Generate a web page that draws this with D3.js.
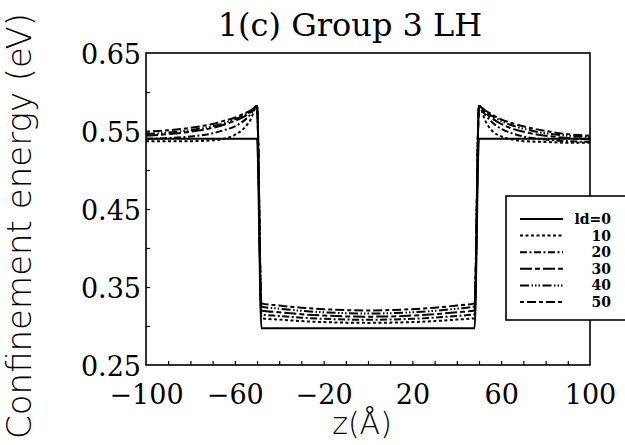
<!DOCTYPE html>
<html>
<head>
<meta charset="utf-8">
<script src="https://cdn.jsdelivr.net/npm/d3@7"></script>
<style>
  body { margin: 0; background: #fff; }
</style>
</head>
<body>
<div id="chart"></div>
<script>
// Data: z in Angstrom, energy in eV
const zGrid = [-100, -90, -80, -70, -65, -60, -56, -53, -50, -48, -40, -30, -20, -10, 0,
               10, 20, 30, 40, 48, 50, 53, 56, 60, 65, 70, 80, 90, 100];

const e0  = [0.540, 0.540, 0.540, 0.540, 0.540, 0.540, 0.540, 0.540, 0.540,
             0.297, 0.297, 0.297, 0.297, 0.297, 0.297, 0.297, 0.297, 0.297, 0.297, 0.297,
             0.540, 0.540, 0.540, 0.540, 0.540, 0.540, 0.540, 0.540, 0.540];
const e10 = [0.537, 0.537, 0.537, 0.538, 0.540, 0.545, 0.553, 0.564, 0.582,
             0.310, 0.3082, 0.3063, 0.305, 0.3043, 0.304, 0.3043, 0.305, 0.3063, 0.3082, 0.310,
             0.582, 0.562, 0.550, 0.543, 0.539, 0.537, 0.536, 0.535, 0.535];
const e20 = [0.540, 0.541, 0.543, 0.547, 0.551, 0.556, 0.563, 0.571, 0.582,
             0.315, 0.3129, 0.3107, 0.3092, 0.3083, 0.308, 0.3083, 0.3092, 0.3107, 0.3129, 0.315,
             0.582, 0.570, 0.561, 0.553, 0.547, 0.543, 0.539, 0.537, 0.536];
const e30 = [0.544, 0.546, 0.549, 0.554, 0.558, 0.563, 0.568, 0.574, 0.582,
             0.320, 0.3176, 0.3151, 0.3134, 0.3123, 0.312, 0.3123, 0.3134, 0.3151, 0.3176, 0.320,
             0.582, 0.573, 0.566, 0.559, 0.553, 0.549, 0.544, 0.541, 0.539];
const e40 = [0.546, 0.548, 0.551, 0.556, 0.560, 0.565, 0.570, 0.575, 0.582,
             0.325, 0.3222, 0.3195, 0.3176, 0.3164, 0.316, 0.3164, 0.3176, 0.3195, 0.3222, 0.325,
             0.582, 0.575, 0.569, 0.563, 0.557, 0.553, 0.547, 0.544, 0.542];
const e50 = [0.549, 0.551, 0.554, 0.559, 0.563, 0.567, 0.572, 0.576, 0.582,
             0.329, 0.3262, 0.3235, 0.3216, 0.3204, 0.320, 0.3204, 0.3216, 0.3235, 0.3262, 0.329,
             0.582, 0.576, 0.571, 0.565, 0.560, 0.556, 0.550, 0.546, 0.544];

const legendLabels = ["ld=0", "10", "20", "30", "40", "50"];
const xTickLabels = [-100, -60, -20, 20, 60, 100];
const yTickLabels = [0.25, 0.35, 0.45, 0.55, 0.65];

// Set dimensions
const width = 625, height = 445;
const plotL = 146, plotR = 590, plotT = 53, plotB = 365;

const svg = d3.select("#chart")
  .append("svg")
  .attr("width", width)
  .attr("height", height);

const xScale = d3.scaleLinear().domain([-100, 100]).range([plotL, plotR]);
const yScale = d3.scaleLinear().domain([0.25, 0.65]).range([plotB, plotT]);

// dash patterns, in legend order
const dashes = ["none", "3,2.5", "7,2.5,2,2.5", "12,3,5,3", "9,2.5,1.5,2,1.5,2,1.5,2.5", "4,3,9,3"];
const allSeries = [e0, e10, e20, e30, e40, e50];

// Title
svg.append("text")
  .attr("x", 350)
  .attr("y", 36)
  .attr("text-anchor", "middle")
  .style("font-family", "DejaVu Serif")
  .style("font-size", "32px")
  .text("1(c) Group 3 LH");

// X axis ticks (every 10, pointing in)
svg.append("g")
  .attr("transform", "translate(0," + plotB + ")")
  .call(d3.axisBottom(xScale).tickValues(d3.range(-90, 100, 10)).tickSize(-4).tickFormat(""))
  .call(g => g.select(".domain").remove())
  .selectAll("line").attr("stroke-width", 1.2);

svg.append("g")
  .attr("transform", "translate(0," + plotB + ")")
  .call(d3.axisBottom(xScale).tickValues(xTickLabels).tickSize(0).tickPadding(0).tickFormat(d3.format("d")))
  .call(g => g.select(".domain").remove())
  .selectAll("text")
    .attr("y", 39)
    .attr("dy", null)
    .style("font-family", "DejaVu Serif")
    .style("font-size", "27px")
    .style("fill", "#000");

// Y axis ticks (every 0.05, pointing in)
svg.append("g")
  .attr("transform", "translate(" + plotL + ",0)")
  .call(d3.axisLeft(yScale).tickValues(d3.range(0.30, 0.64, 0.05)).tickSize(-4).tickFormat(""))
  .call(g => g.select(".domain").remove())
  .selectAll("line").attr("stroke-width", 1.2);

svg.append("g")
  .attr("transform", "translate(" + plotL + ",0)")
  .call(d3.axisLeft(yScale).tickValues(yTickLabels).tickSize(0).tickPadding(5).tickFormat(d3.format(".2f")))
  .call(g => g.select(".domain").remove())
  .selectAll("text")
    .attr("dy", "0.38em")
    .style("font-family", "DejaVu Serif")
    .style("font-size", "27px")
    .style("fill", "#000");

// Frame
svg.append("rect")
  .attr("x", plotL)
  .attr("y", plotT)
  .attr("width", plotR - plotL)
  .attr("height", plotB - plotT)
  .attr("fill", "none")
  .attr("stroke", "#000")
  .attr("stroke-width", 1.6);

// Curves
const line = d3.line()
  .x((d, i) => xScale(zGrid[i]))
  .y(d => yScale(d))
  .curve(d3.curveMonotoneX);

svg.selectAll(".curve")
  .data(allSeries)
  .enter()
  .append("path")
    .attr("class", "curve")
    .attr("d", line)
    .attr("fill", "none")
    .attr("stroke", "#000")
    .attr("stroke-width", 2)
    .attr("stroke-dasharray", (d, i) => dashes[i]);

// Axis titles
svg.append("text")
  .attr("transform", "translate(31,226) rotate(-90)")
  .attr("text-anchor", "middle")
  .style("font-family", "DejaVu Sans")
  .style("font-weight", 200)
  .style("font-size", "34px")
  .text("Confinement energy (eV)");

svg.append("text")
  .attr("x", 362)
  .attr("y", 434)
  .attr("text-anchor", "middle")
  .style("font-family", "DejaVu Sans")
  .style("font-weight", 200)
  .style("font-size", "30px")
  .text("z(Å)");

// Legend (white box covers the right frame)
const legend = svg.append("g");
legend.append("rect")
  .attr("x", 506)
  .attr("y", 196)
  .attr("width", 130)
  .attr("height", 124)
  .attr("fill", "#fff")
  .attr("stroke", "#000")
  .attr("stroke-width", 1.6);

const rows = legend.selectAll(".row")
  .data(legendLabels)
  .enter()
  .append("g")
    .attr("class", "row")
    .attr("transform", (d, i) => "translate(0," + (219 + i * 16.6) + ")");

rows.append("line")
  .attr("x1", 520)
  .attr("x2", 563)
  .attr("stroke", "#000")
  .attr("stroke-width", 2)
  .attr("stroke-dasharray", (d, i) => dashes[i]);

rows.append("text")
  .attr("x", 611)
  .attr("dy", "0.36em")
  .attr("text-anchor", "end")
  .style("font-family", "DejaVu Serif")
  .style("font-weight", "bold")
  .style("font-size", "14px")
  .text(d => d);
</script>
</body>
</html>
